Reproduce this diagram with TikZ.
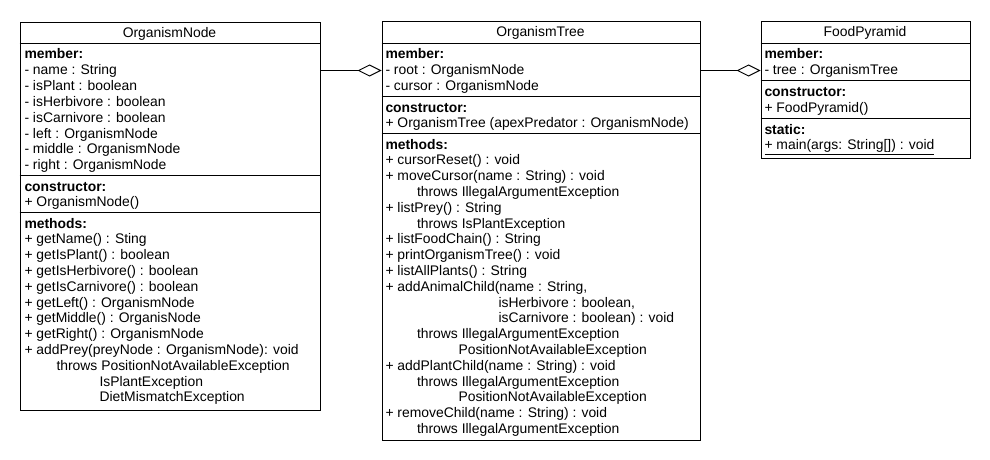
\documentclass[tikz,border=0pt]{standalone}
\usepackage{fontspec}
\setmainfont{Liberation Sans}
\usetikzlibrary{arrows.meta}
\newcommand{\umlfont}{\fontsize{13.9}{16}\selectfont}
\begin{document}
\begin{tikzpicture}[x=1pt,y=-1pt,line width=1pt,
  classbox/.style={draw, line width=1pt, inner sep=0pt, anchor=north west},
  sepline/.style={line width=1pt},
  txt/.style={anchor=base west, inner sep=0pt, font=\umlfont},
  hd/.style={anchor=base west, inner sep=0pt, font=\umlfont\bfseries},
  ttl/.style={anchor=base, inner sep=0pt, font=\umlfont},
  agg/.style={-{Diamond[open,length=24pt,width=12pt]}, line width=1pt}]
\path[use as bounding box, fill=white] (0,0) rectangle (990,460);

% ---------------- OrganismNode ----------------
\node[classbox, minimum width=300pt, minimum height=387pt] (ON) at (19.5,22.5) {};
\node[ttl] (ONt) at (169.5,37.5) {OrganismNode};
\draw[sepline] (ON.west |- 0,43.5) -- (ON.east |- 0,43.5);
\draw[sepline] (ON.west |- 0,175.5) -- (ON.east |- 0,175.5);
\draw[sepline] (ON.west |- 0,212.5) -- (ON.east |- 0,212.5);
\node[hd] (ONmh) at (24,59) {member:};
\foreach \t [count=\i] in {{- name : String},{- isPlant : boolean},{- isHerbivore : boolean},{- isCarnivore : boolean},{- left : OrganismNode},{- middle : OrganismNode},{- right : OrganismNode}}
  \node[txt] (ONm\i) at (24,59+15.8*\i) {\t};
\node[hd] (ONch) at (24,191) {constructor:};
\node[txt] (ONc1) at (24,206.8) {+ OrganismNode()};
\node[hd] (ONfh) at (24,228) {methods:};
\foreach \d/\t [count=\i] in {0/{+ getName() : Sting},0/{+ getIsPlant() : boolean},0/{+ getIsHerbivore() : boolean},0/{+ getIsCarnivore() : boolean},0/{+ getLeft() : OrganismNode},0/{+ getMiddle() : OrganisNode},0/{+ getRight() : OrganismNode},0/{+ addPrey(preyNode : OrganismNode): void},32/{throws PositionNotAvailableException},75/{IsPlantException},75/{DietMismatchException}}
  \node[txt] (ONf\i) at (24+\d,228+15.8*\i) {\t};

% ---------------- OrganismTree ----------------
\node[classbox, minimum width=318pt, minimum height=418pt] (OT) at (381.5,21.5) {};
\node[ttl] (OTt) at (540.5,36.5) {OrganismTree};
\draw[sepline] (OT.west |- 0,43.5) -- (OT.east |- 0,43.5);
\draw[sepline] (OT.west |- 0,96.5) -- (OT.east |- 0,96.5);
\draw[sepline] (OT.west |- 0,133.5) -- (OT.east |- 0,133.5);
\node[hd] (OTmh) at (385,59) {member:};
\node[txt] (OTm1) at (385,74.8) {- root : OrganismNode};
\node[txt] (OTm2) at (385,90.6) {- cursor : OrganismNode};
\node[hd] (OTch) at (385,112) {constructor:};
\node[txt] (OTc1) at (385,127.8) {+ OrganismTree (apexPredator : OrganismNode)};
\node[hd] (OTfh) at (385,149) {methods:};
\foreach \d/\t [count=\i] in {0/{+ cursorReset() : void},0/{+ moveCursor(name : String) : void},31.5/{throws IllegalArgumentException},0/{+ listPrey() : String},31.5/{throws IsPlantException},0/{+ listFoodChain() : String},0/{+ printOrganismTree() : void},0/{+ listAllPlants() : String},0/{+ addAnimalChild(name : String,},113/{isHerbivore : boolean,},113/{isCarnivore : boolean) : void},31.5/{throws IllegalArgumentException},73/{PositionNotAvailableException},0/{+ addPlantChild(name : String) : void},31.5/{throws IllegalArgumentException},73/{PositionNotAvailableException},0/{+ removeChild(name : String) : void},31.5/{throws IllegalArgumentException}}
  \node[txt] (OTf\i) at (385+\d,149+15.8*\i) {\t};

% ---------------- FoodPyramid ----------------
\node[classbox, minimum width=209pt, minimum height=136pt] (FP) at (760.5,21.5) {};
\node[ttl] (FPt) at (865,36.5) {FoodPyramid};
\draw[sepline] (FP.west |- 0,43.5) -- (FP.east |- 0,43.5);
\draw[sepline] (FP.west |- 0,80.5) -- (FP.east |- 0,80.5);
\draw[sepline] (FP.west |- 0,118.5) -- (FP.east |- 0,118.5);
\node[hd] (FPmh) at (764,59) {member:};
\node[txt] (FPm1) at (764,74.8) {- tree : OrganismTree};
\node[hd] (FPch) at (764,96.5) {constructor:};
\node[txt] (FPc1) at (764,112.3) {+ FoodPyramid()};
\node[hd] (FPsh) at (764,134) {static:};
\node[txt] (FPs1) at (764,149.8) {\underline{+ main(args: String[]) : void}};

% ---------------- aggregations ----------------
\coordinate (aggy) at (0,70.5);
\draw[agg] (ON.east |- aggy) -- (OT.west |- aggy);
\draw[agg] (OT.east |- aggy) -- (FP.west |- aggy);
\end{tikzpicture}
\end{document}
